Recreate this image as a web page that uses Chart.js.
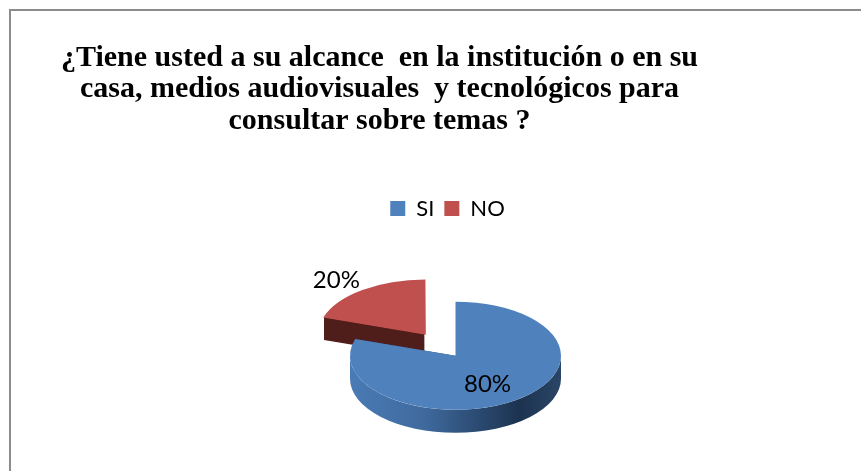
<!DOCTYPE html>
<html lang="es">
<head>
    <meta charset="UTF-8">
    <title>Medios audiovisuales y tecnológicos</title>
    <script src="https://cdn.jsdelivr.net/npm/chart.js"></script>
    <style>
        html, body { margin: 0; background: #fff; overflow: hidden; }
        #wrap { position: relative; width: 861px; height: 471px; }
        #frame { position: absolute; left: 9px; top: 9px; right: 0; bottom: 0; border-left: 2px solid #8c8c8c; border-top: 2px solid #8c8c8c; }
        canvas { position: absolute; left: 0; top: 0; display: block; }
    </style>
</head>
<body>
    <div id="wrap">
        <div id="frame"></div>
        <canvas id="pieChart" width="861" height="471"></canvas>
    </div>

    <script>
        const categories = ['SI', 'NO'];
        const values = [80, 20];
        const titleLines = [
            '¿Tiene usted a su alcance  en la institución o en su',
            'casa, medios audiovisuales  y tecnológicos para',
            'consultar sobre temas ?'
        ];

        const topColors = ['#4f81bd', '#c0504d'];
        const edgeColors = ['#2c4d75', '#4f1d1a'];
        const rimStops = [[0, '#4a7bb5'], [0.35, '#3f6a9e'], [0.8, '#1c3350'], [1, '#2a4566']];

        const squash = 0.512;   // tilt of the pie
        const depth = 23;
        const labelNudge = [[32, 29], [-88, -54]]; // label position from each slice's apex

        // arc.draw moves a slice by this much for a given offset option
        function apex(arc) {
            const mid = (arc.startAngle + arc.endAngle) / 2;
            const o = (arc.options.offset || 0) / 4;
            const d = o + o * (1 - Math.sin(Math.min(Math.PI, arc.circumference)));
            return { x: arc.x + Math.cos(mid) * d, y: arc.y + Math.sin(mid) * d * squash };
        }

        const pie3d = {
            id: 'pie3d',
            afterLayout(chart) {
                // title and legend are not centred on the pie in the original
                chart.titleBlock.left -= 152;
                chart.legend.left -= 16;
                // the pie sits lower than the layout would put it
                chart.chartArea.top += 11;
            },
            beforeDatasetsDraw(chart) {
                const ctx = chart.ctx;
                const arcs = chart.getDatasetMeta(0).data;

                // back to front so the blue top covers the red side
                for (let i = arcs.length - 1; i >= 0; i--) {
                    const arc = arcs[i];
                    const p = apex(arc);
                    const r = arc.outerRadius;
                    const ry = r * squash;

                    ctx.fillStyle = edgeColors[i];
                    [arc.startAngle, arc.endAngle].forEach(a => {
                        const ex = p.x + Math.cos(a) * r;
                        const ey = p.y + Math.sin(a) * ry;
                        ctx.beginPath();
                        ctx.moveTo(p.x, p.y);
                        ctx.lineTo(ex, ey);
                        ctx.lineTo(ex, ey + depth);
                        ctx.lineTo(p.x, p.y + depth);
                        ctx.closePath();
                        ctx.fill();
                    });

                    // outer rim, only the front half shows
                    const from = Math.max(arc.startAngle, 0);
                    const to = Math.min(arc.endAngle, Math.PI);
                    if (to > from) {
                        const grad = ctx.createLinearGradient(p.x - r, 0, p.x + r, 0);
                        rimStops.forEach(s => grad.addColorStop(s[0], s[1]));
                        ctx.fillStyle = grad;
                        ctx.beginPath();
                        ctx.ellipse(p.x, p.y, r, ry, 0, from, to, false);
                        ctx.ellipse(p.x, p.y + depth, r, ry, 0, to, from, true);
                        ctx.closePath();
                        ctx.fill();
                    }
                }

                ctx.save();
                const cy = arcs[0].y;
                ctx.translate(0, cy);
                ctx.scale(1, squash);
                ctx.translate(0, -cy);
            },
            afterDatasetsDraw(chart) {
                const ctx = chart.ctx;
                ctx.restore();

                ctx.fillStyle = '#000';
                ctx.font = '24px Lato';
                ctx.textAlign = 'center';
                ctx.textBaseline = 'middle';
                chart.getDatasetMeta(0).data.forEach((arc, i) => {
                    const p = apex(arc);
                    ctx.fillText(values[i] + '%', p.x + labelNudge[i][0], p.y + labelNudge[i][1]);
                });
            }
        };

        const ctx = document.getElementById('pieChart').getContext('2d');
        const pieChart = new Chart(ctx, {
            type: 'pie',
            data: {
                labels: categories,
                datasets: [{
                    data: values,
                    backgroundColor: topColors,
                    borderWidth: 0,
                    offset: [0, 202],
                    clip: false
                }]
            },
            options: {
                responsive: false,
                animation: false,
                radius: 105.5,
                layout: { padding: { left: 50, right: 0, top: 37, bottom: 0 } },
                plugins: {
                    title: {
                        display: true,
                        text: titleLines,
                        color: '#000',
                        font: { family: 'Liberation Serif', size: 30, weight: 'bold', lineHeight: 1.05 },
                        padding: { top: 5, bottom: 51 }
                    },
                    legend: {
                        position: 'top',
                        labels: {
                            boxWidth: 15,
                            boxHeight: 15,
                            color: '#000',
                            font: { family: 'Lato', size: 22 }
                        }
                    },
                    tooltip: { enabled: false }
                }
            },
            plugins: [pie3d]
        });
    </script>
</body>
</html>
